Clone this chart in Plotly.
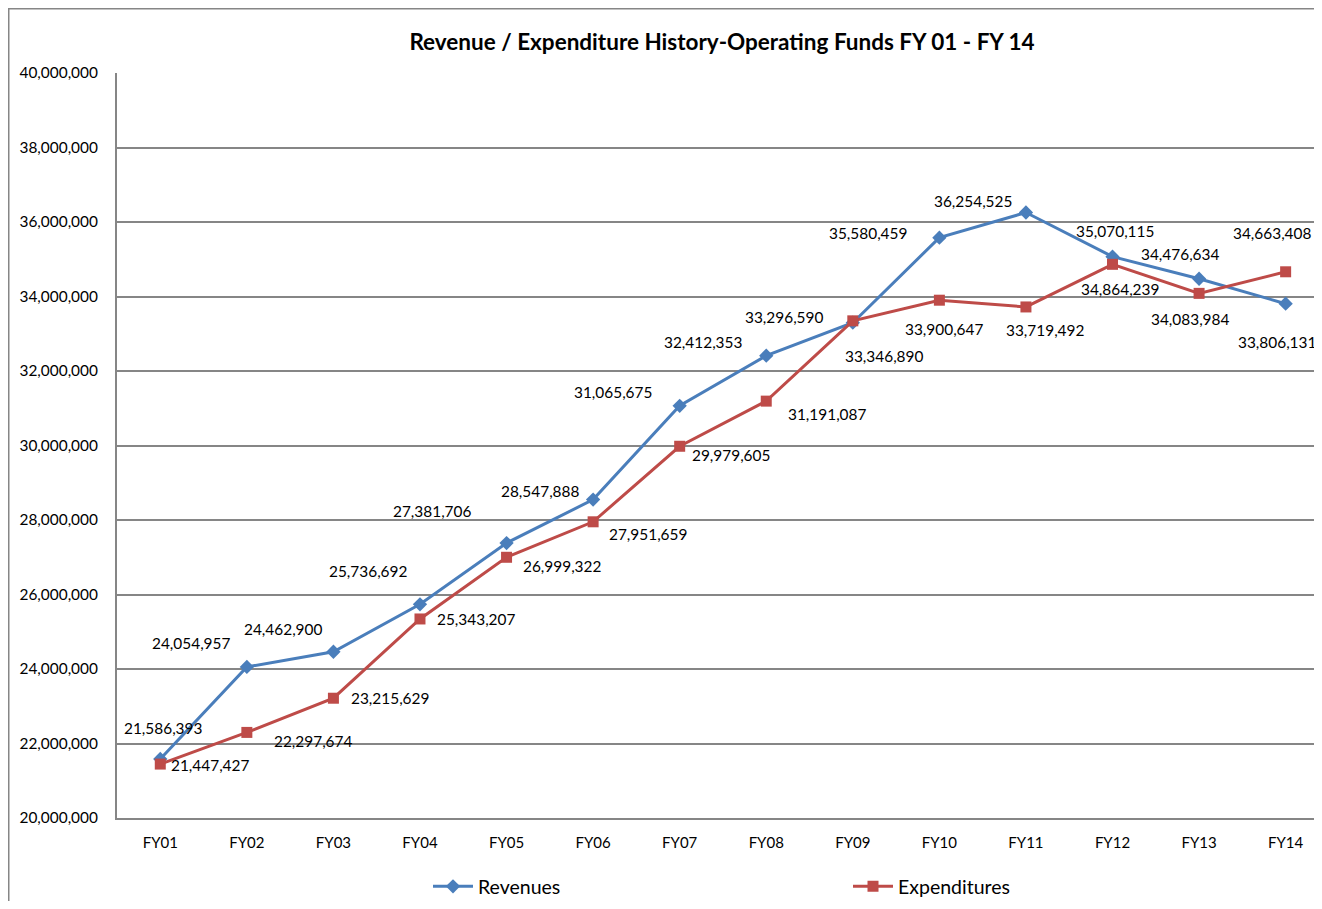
import plotly.graph_objects as go

years = ["FY01", "FY02", "FY03", "FY04", "FY05", "FY06", "FY07",
         "FY08", "FY09", "FY10", "FY11", "FY12", "FY13", "FY14"]
revenues = [21586393, 24054957, 24462900, 25736692, 27381706, 28547888, 31065675,
            32412353, 33296590, 35580459, 36254525, 35070115, 34476634, 33806131]
expenditures = [21447427, 22297674, 23215629, 25343207, 26999322, 27951659, 29979605,
                31191087, 33346890, 33900647, 33719492, 34864239, 34083984, 34663408]

# label offsets in pixels (dx, dy with dy positive = up), as Excel placed them
rev_shift = [(3, 31), (-56, 24), (-50, 23), (-52, 33), (-75, 32), (-53, 9), (-67, 14),
             (-63, 14), (-69, 6), (-71, 5), (-53, 12), (2, 26), (-19, 25), (-9, -38)]
exp_shift = [(50, -1), (66, -9), (57, 0), (56, 0), (55, -9), (55, -12), (51, -9),
             (61, -13), (31, -35), (5, -29), (19, -23), (7, -25), (-9, -26), (-14, 39)]

FONT = "Lato, 'Liberation Sans', sans-serif"
BLUE = "#4A7EBB"
RED = "#BE4B48"
GRID = "#868686"

# page has an 8px body margin, so the figure sits 8px in from the window corner
W, H = 1314, 893
L, T, B = 109, 65, 83
PW, PH = W - L, H - T - B

fig = go.Figure()
fig.add_trace(go.Scatter(
    x=years, y=revenues, mode="lines+markers", name="Revenues",
    line=dict(color=BLUE, width=3),
    marker=dict(symbol="diamond", size=11, color=BLUE),
))
fig.add_trace(go.Scatter(
    x=years, y=expenditures, mode="lines+markers", name="Expenditures",
    line=dict(color=RED, width=3),
    marker=dict(symbol="square", size=11, color=RED),
))

annotations = []
for series, shifts in ((revenues, rev_shift), (expenditures, exp_shift)):
    for year, value, (dx, dy) in zip(years, series, shifts):
        annotations.append(dict(
            x=year, y=value, xref="x", yref="y", text=f"{value:,}",
            showarrow=False, xshift=dx, yshift=dy,
            font=dict(family=FONT, size=15.4, color="#000000"),
        ))

fig.update_layout(
    width=W, height=H,
    margin=dict(l=L, r=0, t=T, b=B, autoexpand=False),
    paper_bgcolor="white", plot_bgcolor="white",
    title=dict(
        text="<b>Revenue / Expenditure History-Operating Funds FY 01 - FY 14</b>",
        x=714 / W, xanchor="center", y=1 - 34 / H, yanchor="middle",
        font=dict(family=FONT, size=22.5, color="#000000"),
    ),
    font=dict(family=FONT, color="#000000"),
    showlegend=True,
    legend=dict(
        orientation="h", x=(420 - L) / PW, xanchor="left", y=-0.066, yanchor="top",
        entrywidth=365, entrywidthmode="pixels",
        font=dict(family=FONT, size=19.5), itemwidth=40,
    ),
    annotations=annotations,
    shapes=[dict(
        type="rect", xref="paper", yref="paper",
        x0=(0.75 - L) / PW, x1=1.05, y0=-0.5, y1=1 + (T - 0.75) / PH,
        line=dict(color=GRID, width=1.5), layer="below",
    )],
)
fig.update_xaxes(
    range=[-0.5, 13.42], showgrid=False, showline=True, linecolor=GRID, linewidth=2,
    ticks="", tickfont=dict(family=FONT, size=15), ticklabelstandoff=10,
)
fig.update_yaxes(
    range=[20000000, 40000000], dtick=2000000, tickformat=",d",
    showgrid=True, gridcolor=GRID, gridwidth=1.5,
    showline=True, linecolor=GRID, linewidth=2, zeroline=False,
    ticks="", tickfont=dict(family=FONT, size=15.4), ticklabelstandoff=14,
)

fig.write_html("out.html")
